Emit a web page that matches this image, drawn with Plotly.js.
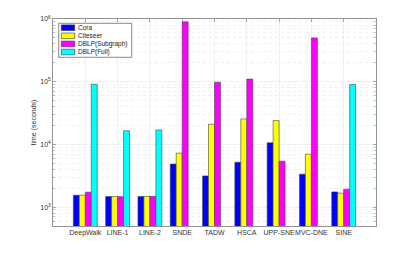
<!DOCTYPE html>
<html><head><meta charset="utf-8">
<script src="https://cdn.plot.ly/plotly-3.0.1.min.js"></script>
<style>html,body{margin:0;padding:0;background:#fff}#chart{width:415px;height:255px}</style>
</head><body><div id="chart"></div>
<script>
const categories = ["DeepWalk","LINE-1","LINE-2","SNDE","TADW","HSCA","UPP-SNE","MVC-DNE","SINE"];
const seriesNames = ["Cora","Citeseer","DBLP(Subgraph)","DBLP(Full)"];
const cora      = [1550, 1475, 1480, 4850, 3150, 5200, 10600, 3350, 1750];
const citeseer  = [1550, 1475, 1480, 7250, 21000, 25500, 24000, 7000, 1670];
const dblpSub   = [1730, 1470, 1480, 900000, 98000, 110000, 5400, 500000, 1930];
const dblpFull  = [91000, 16500, 17000, null, null, null, null, null, 90000];
const seriesColors = ["#0000FF","#FFFF00","#FF00FF","#00FFFF"];
const yTickVals = [1000, 10000, 100000, 1000000];
const yTickText = ["10<sup>3</sup>","10<sup>4</sup>","10<sup>5</sup>","10<sup>6</sup>"];

const allSeries = [cora, citeseer, dblpSub, dblpFull];
const traces = allSeries.map((vals, i) => ({
  type: "bar", x: categories, y: vals, name: seriesNames[i],
  marker: {color: seriesColors[i], line: {color: "#444", width: 0.6}},
  showlegend: false, hoverinfo: "skip"
}));

const minorVals = [];
[100, 1000, 10000, 100000].forEach(d => { for (let k = 2; k <= 9; k++) minorVals.push(k * d); });

// plot area in px
const L = 53, R = 39, T = 19, B = 29, W = 415, H = 255;
const pw = W - L - R, ph = H - T - B;
const px = x => (x - L) / pw;
const py = y => (H - B - y) / ph;

const shapes = [];
const annotations = [];
// legend box
shapes.push({type: "rect", xref: "paper", yref: "paper", x0: px(58.7), x1: px(131.7), y0: py(57.3), y1: py(23.3),
  line: {color: "#555", width: 0.7}, fillcolor: "#fff", layer: "above"});
seriesNames.forEach((n, i) => {
  const cy = 27.7 + i * 8.1;
  shapes.push({type: "rect", xref: "paper", yref: "paper", x0: px(61.3), x1: px(74.7), y0: py(cy + 2.8), y1: py(cy - 2.8),
    line: {color: "#333", width: 0.6}, fillcolor: seriesColors[i], layer: "above"});
  annotations.push({xref: "paper", yref: "paper", x: px(76), y: py(cy), xanchor: "left", yanchor: "middle",
    text: n, showarrow: false, font: {size: 6.5, color: "#222", family: "Liberation Sans, Arial, sans-serif"}});
});

const layout = {
  width: W, height: H,
  margin: {l: L, r: R, t: T, b: B, pad: 0},
  paper_bgcolor: "#fff", plot_bgcolor: "#fff",
  font: {family: "Liberation Sans, Arial, sans-serif", size: 7, color: "#333"},
  barmode: "group", bargap: 0.26, bargroupgap: 0,
  xaxis: {
    type: "category", range: [-1, 9], showgrid: true, gridcolor: "#e6e6e6", gridwidth: 0.6,
    showline: true, linecolor: "#777", linewidth: 0.8, mirror: "ticks",
    ticks: "inside", ticklen: 3, tickcolor: "#777", tickwidth: 0.6,
    tickangle: 0, automargin: false,
    tickfont: {size: 7, color: "#333"}, zeroline: false
  },
  yaxis: {
    type: "log", range: [Math.log10(500), 6],
    tickvals: yTickVals, ticktext: yTickText, automargin: false,
    showgrid: true, gridcolor: "#e6e6e6", gridwidth: 0.6,
    showline: true, linecolor: "#777", linewidth: 0.8, mirror: "ticks",
    ticks: "inside", ticklen: 3, tickcolor: "#777", tickwidth: 0.6,
    tickfont: {size: 7, color: "#333"}, zeroline: false,
    minor: {tickvals: minorVals, ticks: "inside", ticklen: 2, tickcolor: "#999",
      showgrid: true, gridcolor: "#e6e6e6", griddash: "dot", gridwidth: 0.6},
    title: {text: "time (seconds)", font: {size: 7, color: "#333"}, standoff: 2}
  },
  shapes: shapes,
  annotations: annotations
};

Plotly.newPlot("chart", traces, layout, {displayModeBar: false, staticPlot: true});
</script>
</body></html>
